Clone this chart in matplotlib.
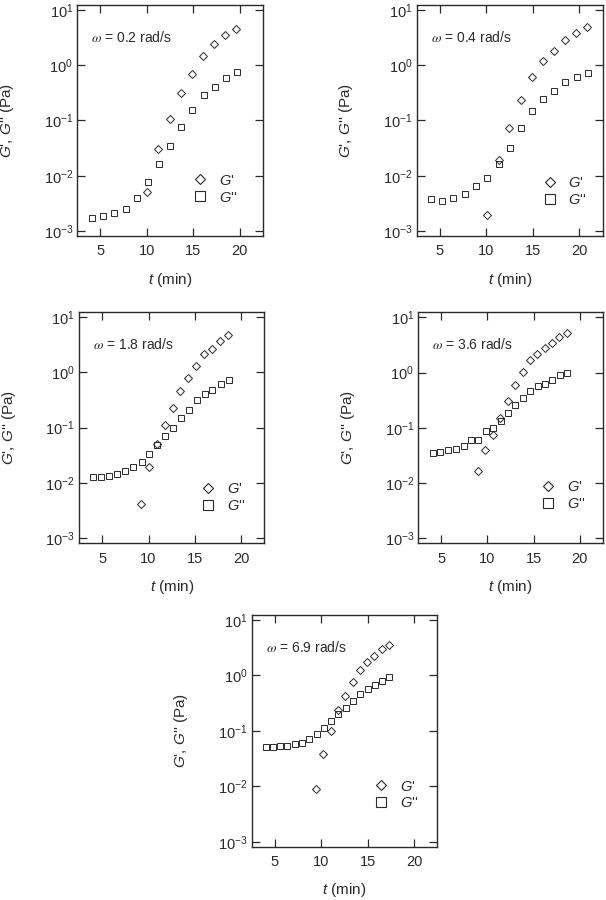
import matplotlib
matplotlib.use("Agg")
import matplotlib.pyplot as plt
from matplotlib.lines import Line2D
from matplotlib.ticker import LogLocator, NullLocator, MultipleLocator

plt.rcParams['font.family'] = ['Liberation Sans', 'DejaVu Sans']
plt.rcParams['mathtext.fontset'] = 'custom'
plt.rcParams['mathtext.rm'] = 'Liberation Sans'
plt.rcParams['mathtext.it'] = 'Liberation Sans:italic'

# data (t in min, moduli in Pa)
omegas = ['0.2', '0.4', '1.8', '3.6', '6.9']

t_g2_1 = [4.1, 5.25, 6.45, 7.7, 8.9, 10.1, 11.3, 12.5, 13.7, 14.9, 16.15, 17.3, 18.55, 19.75]
g2_1 = [1.7e-3, 1.9e-3, 2.1e-3, 2.45e-3, 4.0e-3, 7.7e-3, 0.0166, 0.034, 0.076, 0.156, 0.29, 0.41, 0.58, 0.74]
t_g1_1 = [10.0, 11.2, 12.45, 13.65, 14.85, 16.05, 17.25, 18.45, 19.65]
g1_1 = [5.1e-3, 0.031, 0.106, 0.31, 0.70, 1.44, 2.4, 3.5, 4.5]

t_g2_2 = [4.0, 5.2, 6.45, 7.65, 8.9, 10.05, 11.3, 12.5, 13.7, 14.9, 16.1, 17.3, 18.5, 19.7, 20.9]
g2_2 = [3.85e-3, 3.55e-3, 3.9e-3, 4.6e-3, 6.4e-3, 9.1e-3, 0.0166, 0.032, 0.072, 0.15, 0.247, 0.344, 0.50, 0.60, 0.71]
t_g1_2 = [10.05, 11.3, 12.45, 13.7, 14.85, 16.05, 17.25, 18.45, 19.65, 20.85]
g1_2 = [1.97e-3, 0.0192, 0.072, 0.23, 0.615, 1.2, 1.79, 2.9, 3.9, 4.9]

t_g2_3 = [4.05, 4.9, 5.75, 6.65, 7.5, 8.35, 9.25, 10.1, 10.95, 11.8, 12.65, 13.5, 14.35, 15.2, 16.05, 16.9, 17.8, 18.65]
g2_3 = [0.013, 0.013, 0.0135, 0.0147, 0.0163, 0.0192, 0.0236, 0.034, 0.048, 0.069, 0.10, 0.15, 0.21, 0.31, 0.40, 0.48, 0.60, 0.73]
t_g1_3 = [9.2, 10.05, 10.9, 11.75, 12.6, 13.45, 14.3, 15.15, 16.0, 16.85, 17.75, 18.6]
g1_3 = [4.2e-3, 0.0192, 0.051, 0.112, 0.224, 0.45, 0.78, 1.3, 2.1, 2.6, 3.58, 4.7]

t_g2_4 = [4.05, 4.9, 5.75, 6.6, 7.4, 8.2, 9.0, 9.8, 10.6, 11.45, 12.2, 13.0, 13.85, 14.65, 15.45, 16.25, 17.05, 17.85, 18.65]
g2_4 = [0.035, 0.037, 0.039, 0.042, 0.046, 0.061, 0.061, 0.086, 0.101, 0.134, 0.187, 0.26, 0.35, 0.47, 0.57, 0.62, 0.73, 0.91, 1.0]
t_g1_4 = [8.95, 9.75, 10.55, 11.4, 12.2, 13.0, 13.85, 14.6, 15.4, 16.2, 17.0, 17.8, 18.6]
g1_4 = [0.0163, 0.040, 0.075, 0.148, 0.31, 0.59, 1.04, 1.67, 2.17, 2.83, 3.39, 4.47, 5.1]

t_g2_5 = [4.05, 4.75, 5.55, 6.35, 7.15, 7.9, 8.7, 9.5, 10.25, 11.05, 11.85, 12.65, 13.4, 14.2, 15.0, 15.8, 16.55, 17.3]
g2_5 = [0.051, 0.052, 0.0536, 0.054, 0.0575, 0.0615, 0.0705, 0.087, 0.113, 0.149, 0.204, 0.262, 0.345, 0.455, 0.56, 0.67, 0.79, 0.92]
t_g1_5 = [9.45, 10.2, 11.0, 11.8, 12.6, 13.4, 14.15, 14.9, 15.7, 16.5, 17.25]
g1_5 = [8.9e-3, 0.039, 0.10, 0.234, 0.42, 0.75, 1.23, 1.76, 2.2, 3.0, 3.6]

panels = [
    (t_g1_1, g1_1, t_g2_1, g2_1),
    (t_g1_2, g1_2, t_g2_2, g2_2),
    (t_g1_3, g1_3, t_g2_3, g2_3),
    (t_g1_4, g1_4, t_g2_4, g2_4),
    (t_g1_5, g1_5, t_g2_5, g2_5),
]

# axes boxes in figure fractions
boxes = [
    [0.1276, 0.7378, 0.3059, 0.2567],
    [0.6876, 0.7378, 0.3069, 0.2567],
    [0.1304, 0.3963, 0.3058, 0.2573],
    [0.6903, 0.3963, 0.3043, 0.2567],
    [0.4153, 0.0592, 0.3063, 0.2574],
]
legend_pos = [(0.625, 0.27), (0.675, 0.26), (0.655, 0.265), (0.665, 0.275), (0.66, 0.29)]

ink = '#2a2a2a'
fig = plt.figure(figsize=(6.06, 9.0), dpi=100)

for i, (tg1, g1, tg2, g2) in enumerate(panels):
    ax = fig.add_axes(boxes[i])
    ax.plot(tg2, g2, ls='', marker='s', ms=4.2, mfc='none', mec=ink, mew=0.7)
    ax.plot(tg1, g1, ls='', marker='D', ms=3.6, mfc='none', mec=ink, mew=0.7)
    ax.set_yscale('log')
    ax.set_xlim(2.5, 22.5)
    ax.set_ylim(10 ** -3.09, 10 ** 1.09)
    ax.xaxis.set_major_locator(MultipleLocator(5))
    ax.xaxis.set_minor_locator(NullLocator())
    ax.yaxis.set_major_locator(LogLocator(base=10, numticks=10))
    ax.yaxis.set_minor_locator(NullLocator())
    ax.tick_params(direction='in', length=6, width=0.9, top=True, right=True,
                   labelsize=10.5, colors=ink)
    ax.tick_params(axis='x', pad=6)
    ax.tick_params(axis='y', pad=3)
    for s in ax.spines.values():
        s.set_linewidth(1.0)
        s.set_color(ink)
    ax.set_xlabel(r"$t$ (min)", fontsize=11, color=ink)
    ax.set_ylabel(r"$G$', $G$'' (Pa)", fontsize=11, color=ink)
    ax.xaxis.set_label_coords(0.5, -0.15)
    ax.yaxis.set_label_coords(-0.33, 0.5)
    ax.text(0.075, 0.86, r"$\omega$ = " + omegas[i] + " rad/s", transform=ax.transAxes,
            fontsize=10, color=ink, va='center', ha='left', math_fontfamily='stix')
    handles = [
        Line2D([], [], ls='', marker='D', ms=5.5, mfc='none', mec=ink, mew=0.8, label=r"$G$'"),
        Line2D([], [], ls='', marker='s', ms=6.5, mfc='none', mec=ink, mew=0.8, label=r"$G$''"),
    ]
    leg = ax.legend(handles=handles, loc='upper left', bbox_to_anchor=legend_pos[i],
                    frameon=False, fontsize=10.5, handlelength=1.0, handletextpad=0.8,
                    labelspacing=0.2, borderpad=0, borderaxespad=0)
    for txt in leg.get_texts():
        txt.set_color(ink)

fig.savefig('out.png', dpi=100)
